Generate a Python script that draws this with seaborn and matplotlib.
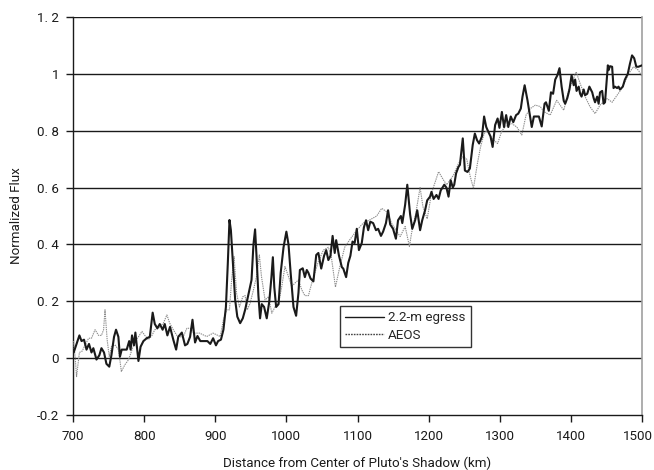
import numpy as np
import pandas as pd
import matplotlib
matplotlib.use("Agg")
import matplotlib.pyplot as plt
import matplotlib.transforms as mtransforms
import seaborn as sns

# ---- data ----
egress_km = [701, 705, 709, 712, 715.5, 719, 722.5, 726, 728.6, 733, 737, 740, 743.6, 747, 751, 754,
             757.7, 760.5, 763.8, 766, 768.5, 771.7, 775.5, 779, 781, 783, 785.8, 787.7, 792, 795, 799,
             803.6, 808, 812, 815, 818.6, 822, 826, 829, 832.7, 836.4, 841, 845, 848, 853, 857.5, 860.8,
             864.6, 868, 871.6, 875, 879, 884, 889, 893, 897, 901, 904, 908, 911.5, 915, 917.6, 920, 922,
             924.6, 928, 931, 935, 938.7, 942, 945, 949, 951, 953.7, 956, 958, 960.7, 963, 965.4, 968.7,
             972.4, 976, 979, 981, 983, 985.6, 989, 992, 996, 1000, 1003, 1006, 1010, 1013.7, 1017, 1019,
             1023, 1026, 1028.7, 1031, 1034, 1038, 1042, 1045, 1049, 1053, 1056, 1059, 1062, 1065, 1068,
             1070, 1074, 1078, 1080, 1084, 1087, 1090, 1093, 1096, 1099, 1102, 1106, 1109, 1112, 1115,
             1118, 1122, 1126, 1129, 1133, 1136, 1140, 1143, 1146, 1150, 1154, 1157, 1161, 1163, 1167,
             1170, 1174, 1177, 1181, 1184, 1188, 1191, 1195, 1198, 1202, 1204, 1207, 1211, 1214, 1217,
             1222, 1225, 1228, 1231, 1234, 1236, 1238.6, 1242, 1244, 1248, 1251, 1254.6, 1258, 1262, 1265,
             1268, 1271, 1275, 1278, 1281, 1284, 1287, 1290, 1293.5, 1297, 1299.6, 1303, 1306, 1309, 1312,
             1315.5, 1319, 1323, 1326, 1329.6, 1332, 1335, 1339, 1342, 1345, 1348, 1352, 1355, 1359, 1363,
             1365, 1369, 1372, 1375, 1378, 1381, 1384, 1387, 1390, 1392, 1395, 1398, 1401, 1404, 1406,
             1408, 1411, 1413, 1415, 1418, 1420, 1423, 1426, 1430, 1432, 1434, 1437, 1439, 1441, 1444,
             1446, 1448, 1452, 1453, 1455, 1458, 1460, 1462, 1465, 1467, 1469, 1473, 1476, 1480, 1483,
             1486, 1489, 1492, 1495, 1500]
egress_flux = [0.02, 0.05, 0.08, 0.06, 0.065, 0.03, 0.05, 0.02, 0.035, -0.005, 0.01, 0.035, 0.02, -0.02,
               -0.03, 0.01, 0.075, 0.1, 0.075, 0.005, 0.03, 0.03, 0.03, 0.06, 0.03, 0.08, 0.045, 0.09,
               -0.01, 0.04, 0.06, 0.07, 0.075, 0.16, 0.12, 0.105, 0.12, 0.1, 0.12, 0.08, 0.11, 0.065, 0.03,
               0.075, 0.09, 0.045, 0.05, 0.075, 0.135, 0.055, 0.078, 0.06, 0.06, 0.06, 0.05, 0.07, 0.045,
               0.06, 0.065, 0.1, 0.18, 0.33, 0.486, 0.45, 0.345, 0.205, 0.146, 0.123, 0.14, 0.17, 0.205,
               0.25, 0.275, 0.4, 0.453, 0.36, 0.22, 0.14, 0.19, 0.18, 0.14, 0.2, 0.285, 0.355, 0.25, 0.18,
               0.19, 0.3, 0.39, 0.445, 0.4, 0.3, 0.18, 0.149, 0.23, 0.31, 0.316, 0.285, 0.31, 0.3, 0.28,
               0.27, 0.363, 0.37, 0.315, 0.36, 0.38, 0.345, 0.36, 0.43, 0.37, 0.415, 0.36, 0.32, 0.315,
               0.285, 0.335, 0.36, 0.41, 0.405, 0.455, 0.38, 0.405, 0.46, 0.485, 0.45, 0.48, 0.475, 0.45,
               0.455, 0.43, 0.445, 0.475, 0.52, 0.47, 0.455, 0.42, 0.485, 0.5, 0.475, 0.54, 0.61, 0.505,
               0.455, 0.485, 0.52, 0.45, 0.485, 0.52, 0.555, 0.568, 0.585, 0.56, 0.574, 0.56, 0.59, 0.61,
               0.6, 0.568, 0.626, 0.6, 0.61, 0.65, 0.673, 0.68, 0.773, 0.66, 0.655, 0.667, 0.75, 0.79,
               0.767, 0.755, 0.78, 0.85, 0.813, 0.796, 0.78, 0.743, 0.82, 0.843, 0.81, 0.866, 0.813, 0.855,
               0.813, 0.85, 0.83, 0.855, 0.86, 0.878, 0.92, 0.96, 0.907, 0.86, 0.813, 0.85, 0.85, 0.85,
               0.815, 0.895, 0.9, 0.87, 0.935, 0.93, 0.98, 0.995, 1.02, 0.955, 0.905, 0.895, 0.915, 0.945,
               0.995, 0.96, 0.98, 0.94, 0.955, 0.93, 0.92, 0.945, 0.925, 0.93, 0.955, 0.935, 0.915, 0.9,
               0.92, 0.895, 0.935, 0.94, 0.895, 0.9, 1.03, 1.013, 1.027, 1.025, 0.95, 0.955, 0.95, 0.955,
               0.945, 0.955, 0.98, 1.0, 1.035, 1.065, 1.055, 1.025, 1.025, 1.03]

aeos_km = [700.5, 703, 705, 709, 713, 717, 722, 726, 731, 736, 740, 743, 745, 748, 751, 754, 759, 764,
           768, 773, 778, 783, 787, 792, 797, 801, 806, 811, 815, 820, 827, 832, 836, 841, 846, 850, 855,
           860, 865, 870, 878, 888, 897, 907, 911.5, 916, 920, 923, 926.5, 930, 934, 938.7, 942, 945, 949,
           953.7, 958, 962, 965, 970, 975, 979.5, 984, 989, 993.5, 998, 1003, 1007.6, 1012, 1017, 1021.7,
           1026, 1031, 1035.7, 1040, 1045, 1052, 1059, 1063, 1069, 1075, 1082, 1089, 1099, 1108, 1117,
           1127, 1134, 1141, 1148, 1154, 1160, 1167, 1173, 1176, 1182, 1188, 1192, 1198, 1204, 1214, 1221,
           1225.5, 1235, 1242, 1248, 1253.6, 1258, 1263, 1268.6, 1273, 1278, 1282, 1289, 1297, 1303, 1310,
           1317, 1324, 1331, 1337, 1343, 1350, 1357, 1362, 1371, 1380, 1390, 1397, 1407.5, 1413, 1420,
           1427, 1434, 1441, 1451, 1458, 1465, 1472, 1481, 1488, 1495, 1500]
aeos_flux = [0.06, 0.005, -0.065, 0.02, 0.025, 0.047, 0.07, 0.07, 0.1, 0.08, 0.08, 0.1, 0.17, 0.065, 0.005,
             0.04, 0.047, 0.03, -0.047, -0.023, -0.006, 0.03, 0.06, 0.075, 0.094, 0.08, 0.065, 0.08, 0.1,
             0.105, 0.123, 0.152, 0.123, 0.1, 0.08, 0.075, 0.075, 0.105, 0.105, 0.088, 0.088, 0.076, 0.088,
             0.076, 0.135, 0.17, 0.17, 0.275, 0.357, 0.228, 0.18, 0.216, 0.22, 0.17, 0.193, 0.24, 0.287,
             0.363, 0.287, 0.205, 0.216, 0.158, 0.18, 0.193, 0.252, 0.322, 0.287, 0.252, 0.264, 0.275, 0.24,
             0.22, 0.22, 0.264, 0.3, 0.34, 0.38, 0.39, 0.36, 0.25, 0.32, 0.39, 0.416, 0.45, 0.475, 0.486,
             0.5, 0.527, 0.515, 0.475, 0.45, 0.428, 0.463, 0.393, 0.44, 0.51, 0.6, 0.533, 0.49, 0.58, 0.656,
             0.626, 0.61, 0.644, 0.685, 0.708, 0.7, 0.644, 0.597, 0.685, 0.743, 0.79, 0.8, 0.773, 0.755,
             0.8, 0.82, 0.825, 0.813, 0.785, 0.855, 0.878, 0.89, 0.885, 0.867, 0.855, 0.907, 0.872, 0.943,
             1.007, 0.966, 0.92, 0.884, 0.86, 0.89, 0.913, 0.9, 0.925, 0.95, 1.0, 1.025, 1.013, 0.99]

x_ticks = [700, 800, 900, 1000, 1100, 1200, 1300, 1400, 1500]
y_ticks = [-0.2, 0.0, 0.2, 0.4, 0.6, 0.8, 1.0, 1.2]
y_tick_labels = ["-0.2", "0", "0. 2", "0. 4", "0. 6", "0. 8", "1", "1. 2"]

# ---- figure ----
sns.set_style("white")
plt.rcParams["font.family"] = ["Roboto", "DejaVu Sans"]

FS = 9.6
fig = plt.figure(figsize=(6.54, 4.70), dpi=100)
ax = fig.add_axes([73 / 654, 55 / 470, 569 / 654, 398 / 470])

for y in y_ticks[1:]:
    ax.axhline(y, color="#1a1a1a", lw=1.0, zorder=1)

df_e = pd.DataFrame({"km": egress_km, "flux": egress_flux})
df_a = pd.DataFrame({"km": aeos_km, "flux": aeos_flux})

sns.lineplot(data=df_a, x="km", y="flux", ax=ax, color="#8c8c8c", lw=0.8,
             linestyle=(0, (1.2, 0.8)), label="AEOS", zorder=3, estimator=None, sort=False)
sns.lineplot(data=df_e, x="km", y="flux", ax=ax, color="#1a1a1a", lw=1.5,
             label="2.2-m egress", zorder=4, estimator=None, sort=False)

ax.set_xlim(700, 1500)
ax.set_ylim(-0.2, 1.2)
ax.set_xticks(x_ticks)
ax.set_xticklabels([str(v) for v in x_ticks])
ax.set_yticks(y_ticks)
ax.set_yticklabels(y_tick_labels)

ax.tick_params(axis="both", which="both", direction="out", length=5, width=1,
               color="#1a1a1a", labelsize=FS, labelcolor="#1a1a1a")
ax.tick_params(axis="x", pad=6, bottom=True)
ax.tick_params(axis="y", pad=5, left=True)

# keep the last x label inside the figure, as in the reference
last = ax.get_xticklabels()[-1]
last.set_transform(last.get_transform() +
                   mtransforms.ScaledTranslation(-4 / 100, 0, fig.dpi_scale_trans))

for s in ["left", "bottom"]:
    ax.spines[s].set_color("#1a1a1a")
    ax.spines[s].set_linewidth(1.0)
ax.spines["top"].set_visible(False)
ax.spines["right"].set_color("#a0a0a0")
ax.spines["right"].set_linewidth(1.2)

ax.set_xlabel("Distance from Center of Pluto's Shadow (km)", fontsize=FS, color="#1a1a1a")
ax.xaxis.set_label_coords(0.5, (415 - 463) / 398)
ax.xaxis.label.set_va("center")
ax.set_ylabel("Normalized Flux", fontsize=FS, color="#1a1a1a")
ax.yaxis.set_label_coords((17 - 73) / 569, 0.5)
ax.yaxis.label.set_va("center")

handles, labels = ax.get_legend_handles_labels()
order = [labels.index("2.2-m egress"), labels.index("AEOS")]
leg = ax.legend([handles[i] for i in order], [labels[i] for i in order],
                loc="upper left", bbox_to_anchor=(0.469, 0.274), borderaxespad=0,
                frameon=True, fancybox=False, edgecolor="#333333", fontsize=FS,
                handlelength=2.9, borderpad=0.4, labelspacing=0.35, handletextpad=0.3,
                framealpha=1)
leg.get_frame().set_linewidth(1.0)
leg.legend_handles[0].set_linewidth(1.0)
leg.legend_handles[1].set_color("#444444")
leg.legend_handles[1].set_linewidth(1.0)
leg.set_zorder(10)

fig.savefig("out.png", dpi=100)
